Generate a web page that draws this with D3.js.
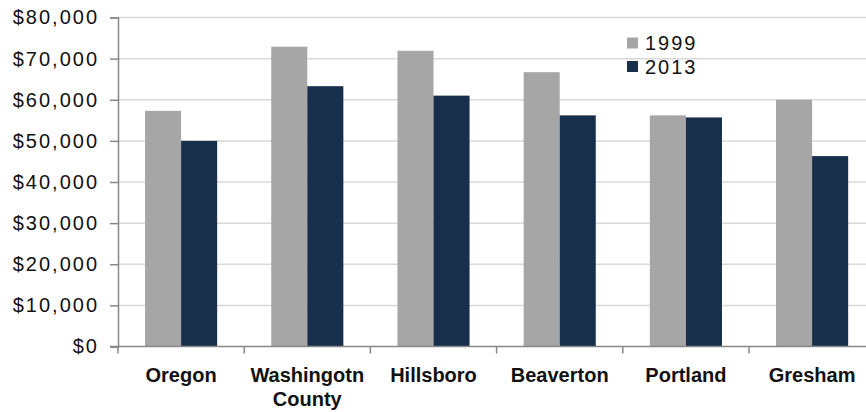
<!DOCTYPE html>
<html>
<head>
<meta charset="utf-8">
<script src="https://cdn.jsdelivr.net/npm/d3@7"></script>
<style>
  html, body { margin: 0; padding: 0; background: #fff; }
  svg { display: block; }
</style>
</head>
<body>
<svg id="chart" width="866" height="412"></svg>
<script>
// Median household income by place, 1999 vs 2013
const categories = ["Oregon", "Washingotn County", "Hillsboro", "Beaverton", "Portland", "Gresham"];
const categoryLines = [["Oregon"], ["Washingotn", "County"], ["Hillsboro"], ["Beaverton"], ["Portland"], ["Gresham"]];
const seriesNames = ["1999", "2013"];
const values1999 = [57300, 72900, 71900, 66700, 56200, 60000];
const values2013 = [50000, 63300, 61000, 56200, 55700, 46300];
const yTicks = [0, 10000, 20000, 30000, 40000, 50000, 60000, 70000, 80000];

const colors = { "1999": "#a6a6a6", "2013": "#172f4a" };
const seriesValues = { "1999": values1999, "2013": values2013 };

const svg = d3.select("#chart");
const W = 866, H = 412;
const plotLeft = 118, plotTop = 17.5, plotBottom = 346.5;
const step = 126.2;
const regularFont = "'Liberation Sans', Arial, sans-serif";

const x0 = d3.scaleBand()
  .domain(categories)
  .range([plotLeft, plotLeft + step * categories.length])
  .padding(0);

const x1 = d3.scaleBand()
  .domain(seriesNames)
  .range([0, x0.bandwidth()])
  .paddingInner(0)
  .paddingOuter(0.75);

const y = d3.scaleLinear()
  .domain([0, 80000])
  .range([plotBottom, plotTop]);

// Gridlines
svg.append("g")
  .selectAll("line")
  .data(yTicks.filter(d => d > 0))
  .join("line")
  .attr("x1", plotLeft)
  .attr("x2", W)
  .attr("y1", d => y(d))
  .attr("y2", d => y(d))
  .attr("stroke", "#d9d9d9")
  .attr("stroke-width", 1.5);

// Bars
const groups = svg.append("g")
  .selectAll("g")
  .data(categories)
  .join("g")
  .attr("transform", d => `translate(${x0(d)},0)`);

groups.selectAll("rect")
  .data((c, i) => seriesNames.map(s => ({ s, v: seriesValues[s][i] })))
  .join("rect")
  .attr("x", d => x1(d.s))
  .attr("width", x1.bandwidth())
  .attr("y", d => y(d.v))
  .attr("height", d => y(0) - y(d.v))
  .attr("fill", d => colors[d.s]);

// Y axis
const yAxis = d3.axisLeft(y)
  .tickValues(yTicks)
  .tickSize(8)
  .tickPadding(11)
  .tickFormat(d => "$" + d3.format(",")(d));

const yg = svg.append("g")
  .attr("transform", `translate(${plotLeft},0)`)
  .call(yAxis);
yg.select(".domain").attr("stroke", "#888").attr("stroke-width", 1.5);
yg.selectAll(".tick line").attr("stroke", "#888").attr("stroke-width", 1.5);
yg.selectAll(".tick text")
  .attr("fill", "#111")
  .style("font-family", regularFont)
  .style("font-size", "20px")
  .style("letter-spacing", "2px");

// X axis line and category boundary ticks
svg.append("line")
  .attr("x1", plotLeft - 8)
  .attr("x2", W)
  .attr("y1", y(0))
  .attr("y2", y(0))
  .attr("stroke", "#888")
  .attr("stroke-width", 1.5);

svg.append("g")
  .selectAll("line")
  .data(categories)
  .join("line")
  .attr("x1", d => x0(d))
  .attr("x2", d => x0(d))
  .attr("y1", y(0))
  .attr("y2", y(0) + 7)
  .attr("stroke", "#888")
  .attr("stroke-width", 1.5);

// Category labels
const labels = svg.append("g")
  .selectAll("text")
  .data(categories)
  .join("text")
  .attr("x", d => x0(d) + x0.bandwidth() / 2)
  .attr("y", 382)
  .attr("text-anchor", "middle")
  .attr("fill", "#111")
  .style("font-family", regularFont)
  .style("font-weight", "bold")
  .style("font-size", "20px");

labels.each(function (d, i) {
  const t = d3.select(this);
  categoryLines[i].forEach((line, j) => {
    t.append("tspan")
      .attr("x", x0(d) + x0.bandwidth() / 2)
      .attr("dy", j === 0 ? 0 : 24)
      .text(line);
  });
});

// Legend
const legend = svg.append("g")
  .selectAll("g")
  .data(seriesNames)
  .join("g")
  .attr("transform", (d, i) => `translate(627,${37.5 + i * 23.5})`);

legend.append("rect")
  .attr("width", 11)
  .attr("height", 11)
  .attr("fill", d => colors[d]);

legend.append("text")
  .attr("x", 18)
  .attr("y", 12.5)
  .attr("fill", "#111")
  .style("font-family", regularFont)
  .style("font-size", "20px")
  .style("letter-spacing", "2px")
  .text(d => d);
</script>
</body>
</html>
